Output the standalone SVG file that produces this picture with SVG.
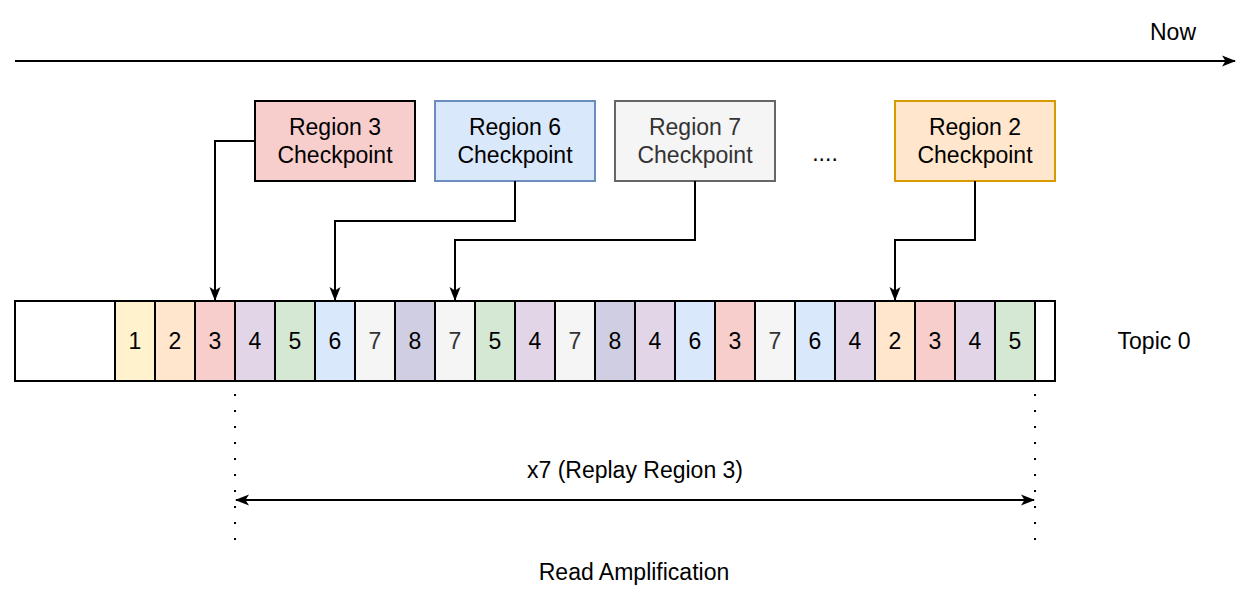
<svg xmlns="http://www.w3.org/2000/svg" width="1252" height="600" viewBox="0 0 1252 600">
<defs>
<marker id="arr" markerUnits="userSpaceOnUse" markerWidth="14" markerHeight="12" viewBox="0 0 14 12" refX="13" refY="6" orient="auto-start-reverse">
<path d="M0,0.5 L14,6 L0,11.5 L3.5,6 Z" fill="#000"/>
</marker>
<style>
text{font-family:"Liberation Sans",Arial,sans-serif;font-size:23px;fill:#000;text-anchor:middle}
.cell{stroke:#000;stroke-width:2}
.c1{fill:#fff2cc}.c2{fill:#ffe6cc}.c3{fill:#f8cecc}.c4{fill:#e1d5e7}.c5{fill:#d5e8d4}.c6{fill:#dae8fc}.c7{fill:#f5f5f5}.c8{fill:#d0cee2}
.g{fill:#333333}
.edge{fill:none;stroke:#000;stroke-width:2}
.dot{fill:none;stroke:#000;stroke-width:2;stroke-dasharray:2 14}
</style>
</defs>
<rect width="1252" height="600" fill="#fff"/>

<g id="timeline">
<line class="edge" x1="15" y1="61" x2="1235" y2="61" marker-end="url(#arr)"/>
<text x="1173" y="40">Now</text>
</g>

<g id="region3-checkpoint">
<rect x="255" y="101" width="160" height="80" fill="#f8cecc" stroke="#000" stroke-width="2"/>
<text x="335" y="135">Region 3</text>
<text x="335" y="163">Checkpoint</text>
</g>
<g id="region6-checkpoint">
<rect x="435" y="101" width="160" height="80" fill="#dae8fc" stroke="#6c8ebf" stroke-width="2"/>
<text x="515" y="135">Region 6</text>
<text x="515" y="163">Checkpoint</text>
</g>
<g id="region7-checkpoint">
<rect x="615" y="101" width="160" height="80" fill="#f5f5f5" stroke="#666666" stroke-width="2"/>
<text class="g" x="695" y="135">Region 7</text>
<text class="g" x="695" y="163">Checkpoint</text>
</g>
<g id="ellipsis">
<text x="825" y="161">....</text>
</g>
<g id="region2-checkpoint">
<rect x="895" y="101" width="160" height="80" fill="#ffe6cc" stroke="#d79b00" stroke-width="2"/>
<text x="975" y="135">Region 2</text>
<text x="975" y="163">Checkpoint</text>
</g>

<g id="topic0">
<rect x="15" y="301" width="1040" height="80" fill="#fff" stroke="#000" stroke-width="2"/>
<rect class="cell c1" x="115" y="301" width="40" height="80"/>
<rect class="cell c2" x="155" y="301" width="40" height="80"/>
<rect class="cell c3" x="195" y="301" width="40" height="80"/>
<rect class="cell c4" x="235" y="301" width="40" height="80"/>
<rect class="cell c5" x="275" y="301" width="40" height="80"/>
<rect class="cell c6" x="315" y="301" width="40" height="80"/>
<rect class="cell c7" x="355" y="301" width="40" height="80"/>
<rect class="cell c8" x="395" y="301" width="40" height="80"/>
<rect class="cell c7" x="435" y="301" width="40" height="80"/>
<rect class="cell c5" x="475" y="301" width="40" height="80"/>
<rect class="cell c4" x="515" y="301" width="40" height="80"/>
<rect class="cell c7" x="555" y="301" width="40" height="80"/>
<rect class="cell c8" x="595" y="301" width="40" height="80"/>
<rect class="cell c4" x="635" y="301" width="40" height="80"/>
<rect class="cell c6" x="675" y="301" width="40" height="80"/>
<rect class="cell c3" x="715" y="301" width="40" height="80"/>
<rect class="cell c7" x="755" y="301" width="40" height="80"/>
<rect class="cell c6" x="795" y="301" width="40" height="80"/>
<rect class="cell c4" x="835" y="301" width="40" height="80"/>
<rect class="cell c2" x="875" y="301" width="40" height="80"/>
<rect class="cell c3" x="915" y="301" width="40" height="80"/>
<rect class="cell c4" x="955" y="301" width="40" height="80"/>
<rect class="cell c5" x="995" y="301" width="40" height="80"/>
<text x="135" y="349">1</text>
<text x="175" y="349">2</text>
<text x="215" y="349">3</text>
<text x="255" y="349">4</text>
<text x="295" y="349">5</text>
<text x="335" y="349">6</text>
<text class="g" x="375" y="349">7</text>
<text x="415" y="349">8</text>
<text class="g" x="455" y="349">7</text>
<text x="495" y="349">5</text>
<text x="535" y="349">4</text>
<text class="g" x="575" y="349">7</text>
<text x="615" y="349">8</text>
<text x="655" y="349">4</text>
<text x="695" y="349">6</text>
<text x="735" y="349">3</text>
<text class="g" x="775" y="349">7</text>
<text x="815" y="349">6</text>
<text x="855" y="349">4</text>
<text x="895" y="349">2</text>
<text x="935" y="349">3</text>
<text x="975" y="349">4</text>
<text x="1015" y="349">5</text>
<text x="1154" y="349">Topic 0</text>
</g>

<g id="connectors">
<polyline class="edge" points="255,141 215,141 215,300" marker-end="url(#arr)"/>
<polyline class="edge" points="515,181 515,221 335,221 335,300" marker-end="url(#arr)"/>
<polyline class="edge" points="695,181 695,240 455,240 455,300" marker-end="url(#arr)"/>
<polyline class="edge" points="975,181 975,240 895,240 895,300" marker-end="url(#arr)"/>
<line class="dot" x1="235" y1="394" x2="235" y2="541"/>
<line class="dot" x1="1035" y1="394" x2="1035" y2="541"/>
<line class="edge" x1="236" y1="500" x2="1034" y2="500" marker-start="url(#arr)" marker-end="url(#arr)"/>
</g>

<g id="labels">
<text x="635" y="478">x7 (Replay Region 3)</text>
<text x="634" y="580">Read Amplification</text>
</g>
</svg>
